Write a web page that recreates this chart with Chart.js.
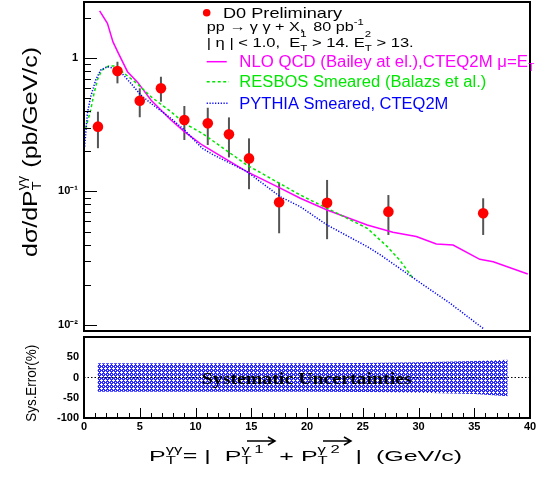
<!DOCTYPE html>
<html><head><meta charset="utf-8">
<script src="https://cdn.jsdelivr.net/npm/chart.js@4.4.1/dist/chart.umd.min.js"></script>
<style>
html,body{margin:0;padding:0;background:#fff;}
#wrap{position:relative;width:542px;height:477px;overflow:hidden;}
#top{position:absolute;left:0;top:0;}
#bot{position:absolute;left:0;top:335px;}
</style></head><body>
<div id="wrap">
<canvas id="top" width="542" height="335"></canvas>
<canvas id="bot" width="542" height="142"></canvas>
</div>
<script>
// ---------- data ----------
const dataPt  = [1.25, 3.0, 5.0, 6.9, 9.0, 11.1, 13.0, 14.8, 17.5, 21.8, 27.3, 35.8];
const dataVal = [0.306, 0.799, 0.479, 0.593, 0.343, 0.324, 0.268, 0.177, 0.083, 0.0824, 0.0706, 0.0687];
const dataHi  = [0.396, 0.938, 0.593, 0.724, 0.437, 0.424, 0.359, 0.250, 0.116, 0.122, 0.094, 0.0889];
const dataLo  = [0.211, 0.646, 0.360, 0.471, 0.243, 0.223, 0.180, 0.104, 0.0486, 0.0439, 0.0472, 0.0472];

const nloPt  = [1.4, 2.1, 2.6, 3.1, 3.9, 4.8, 6.0, 7.8, 9.0, 10.6, 11.6, 14.6, 17.6, 19.4, 21.8, 25.4, 27.7, 29.8, 31.6, 33.1, 35.5, 36.7, 39.8];
const nloVal = [2.26, 1.82, 1.32, 1.08, 0.79, 0.66, 0.485, 0.343, 0.281, 0.223, 0.199, 0.141, 0.106, 0.089, 0.0727, 0.056, 0.0495, 0.046, 0.0404, 0.0397, 0.031, 0.0297, 0.0241];

const resPt  = [0.15, 0.6, 0.9, 1.2, 1.6, 2.2, 2.8, 3.6, 4.8, 6.0, 7.8, 9.0, 10.6, 14.6, 19.4, 21.8, 25.4, 27.2, 28.3, 29.5];
const resVal = [0.297, 0.408, 0.544, 0.684, 0.813, 0.871, 0.871, 0.768, 0.64, 0.513, 0.396, 0.324, 0.273, 0.158, 0.094, 0.0748, 0.053, 0.0386, 0.0307, 0.0224];

const pyPt  = [0.06, 0.3, 0.6, 1.05, 1.5, 2.1, 2.7, 3.4, 4.2, 5.1, 6.0, 7.8, 9.0, 10.6, 11.6, 14.6, 17.6, 19.4, 21.8, 25.4, 26.6, 29.8, 32.8, 35.8];
const pyVal = [0.217, 0.385, 0.513, 0.684, 0.813, 0.861, 0.837, 0.768, 0.646, 0.528, 0.458, 0.353, 0.289, 0.211, 0.188, 0.141, 0.0914, 0.0769, 0.0561, 0.0386, 0.0334, 0.0217, 0.0146, 0.0094];

const sysPt = [1.2, 10, 20, 25, 30, 35, 38];
const sysUp = [35, 35, 35, 36, 37.5, 40.5, 44];
const sysDn = [-35, -35, -35, -36, -37.5, -41, -46];

const yTickVals = [0.01,0.02,0.03,0.04,0.05,0.06,0.07,0.08,0.09,0.1,0.2,0.3,0.4,0.5,0.6,0.7,0.8,0.9,1,2];
const yTickLabels = {0.01:'10\u207B\u00B2', 0.1:'10\u207B\u00B9', 1:'1'};
const sysTickLabels = {'50':'50','0':'0','-50':'-50','-100':'-100'};

// ---------- helpers ----------
const SANS = '"Liberation Sans", Arial, Helvetica, sans-serif';
function fnt(p){ return (p.w||'') + ' ' + p.s + 'px ' + (p.f||SANS); }
function drawRich(ctx, parts, x, y, target, align){
  let w = 0;
  for (const p of parts){ ctx.font = fnt(p); if(!p.stack) w += ctx.measureText(p.t).width; }
  const sx = target ? target / w : 1;
  ctx.save();
  ctx.translate(x, y);
  ctx.scale(sx, 1);
  ctx.textAlign = 'left'; ctx.textBaseline = 'alphabetic';
  let cx = align === 'center' ? -w/2 : 0;
  for (const p of parts){
    ctx.font = fnt(p);
    ctx.fillStyle = p.c || '#000';
    ctx.fillText(p.t, cx, p.dy || 0);
    if(!p.stack) cx += ctx.measureText(p.t).width;
  }
  ctx.restore();
}
function makePattern(){
  const c = document.createElement('canvas'); c.width = 4; c.height = 4;
  const g = c.getContext('2d');
  g.fillStyle = '#2a2aff'; g.fillRect(0,0,4,4);
  g.fillStyle = '#ffffff';
  g.fillRect(1,0,1,1); g.fillRect(0,1,1,1); g.fillRect(1,1,1,1); g.fillRect(2,1,1,1); g.fillRect(1,2,1,1);
  g.fillRect(3,3,1,1);
  return g.createPattern(c, 'repeat');
}
const pts = (xs, ys) => xs.map((x,i)=>({x:x, y:ys[i]}));
function noPad(s){ s.paddingTop = 0; s.paddingBottom = 0; s.paddingLeft = 0; s.paddingRight = 0; }

// ---------- plugins ----------
const topDeco = {
  id:'topDeco',
  beforeDatasetsDraw(chart){
    const ctx = chart.ctx, xs = chart.scales.x, ys = chart.scales.y;
    ctx.save();
    ctx.strokeStyle = '#555'; ctx.lineWidth = 2;
    for (let i=0;i<dataPt.length;i++){
      const px = xs.getPixelForValue(dataPt[i]);
      ctx.beginPath();
      ctx.moveTo(px, ys.getPixelForValue(dataHi[i]));
      ctx.lineTo(px, ys.getPixelForValue(dataLo[i]));
      ctx.stroke();
    }
    ctx.restore();
  },
  afterDraw(chart){
    const ctx = chart.ctx, a = chart.chartArea, ys = chart.scales.y;
    ctx.save();
    ctx.strokeStyle = '#000'; ctx.lineWidth = 1;
    for (const v of yTickVals){
      const py = Math.round(ys.getPixelForValue(v)) + 0.5;
      const len = (v===0.01||v===0.1||v===1) ? 13 : 7;
      ctx.beginPath(); ctx.moveTo(a.left, py); ctx.lineTo(a.left+len, py); ctx.stroke();
    }
    ctx.lineWidth = 2; ctx.strokeStyle = '#000';
    ctx.strokeRect(a.left, a.top, a.right-a.left, a.bottom-a.top);

    // legend block
    ctx.fillStyle = '#ff0000';
    ctx.beginPath(); ctx.arc(206.7, 12.7, 3.8, 0, Math.PI*2); ctx.fill();
    drawRich(ctx, [{t:'D0 Preliminary', s:15}], 223, 17.5, 119);
    drawRich(ctx, [{t:'pp \u2192 \u03B3 \u03B3 + X,  80 pb', s:13}, {t:'-1', s:9, dy:-6}], 206.7, 30.5, 157);
    drawRich(ctx, [
      {t:'| \u03B7 | < 1.0,  E', s:13}, {t:'1', s:9, dy:-10, stack:true}, {t:'T', s:9, dy:4},
      {t:' > 14. E', s:13}, {t:'2', s:9, dy:-10, stack:true}, {t:'T', s:9, dy:4},
      {t:' > 13.', s:13}], 206.7, 46.7, 207);

    ctx.lineWidth = 1.5;
    ctx.strokeStyle = '#ff00ff'; ctx.setLineDash([]);
    ctx.beginPath(); ctx.moveTo(206.7, 61.7); ctx.lineTo(226.7, 61.7); ctx.stroke();
    ctx.strokeStyle = '#00e600'; ctx.setLineDash([3,2.5]);
    ctx.beginPath(); ctx.moveTo(206.7, 81.7); ctx.lineTo(229, 81.7); ctx.stroke();
    ctx.strokeStyle = '#0000ff'; ctx.setLineDash([1.2,1.6]);
    ctx.beginPath(); ctx.moveTo(206.7, 103.3); ctx.lineTo(229, 103.3); ctx.stroke();
    ctx.setLineDash([]);

    drawRich(ctx, [{t:'NLO QCD (Bailey at el.),CTEQ2M \u03BC=E', s:16, c:'#ff00ff'}, {t:'T', s:10, dy:4, c:'#ff00ff'}], 239.3, 67, 295);
    drawRich(ctx, [{t:'RESBOS Smeared (Balazs et al.)', s:16, c:'#00e600'}], 239.3, 87.3, 247);
    drawRich(ctx, [{t:'PYTHIA Smeared, CTEQ2M', s:16, c:'#0000ff'}], 239.3, 109, 209);

    ctx.save();
    ctx.translate(37, 152);
    ctx.rotate(-Math.PI/2);
    drawRich(ctx, [
      {t:'d\u03C3/dP', s:21}, {t:'\u03B3\u03B3', s:12, dy:-11, stack:true}, {t:'T', s:12, dy:4},
      {t:'  (pb/GeV/c)', s:21}], 0, 0, 210, 'center');
    ctx.restore();
    ctx.restore();
  }
};

const botDeco = {
  id:'botDeco',
  afterDraw(chart){
    const ctx = chart.ctx, a = chart.chartArea, xs = chart.scales.x;
    ctx.save();
    ctx.strokeStyle = '#000'; ctx.lineWidth = 1;
    for (let v=0; v<=40; v++){
      const px = Math.round(xs.getPixelForValue(v)) + 0.5;
      const len = v%5===0 ? 10 : 5;
      ctx.beginPath(); ctx.moveTo(px, a.bottom); ctx.lineTo(px, a.bottom-len); ctx.stroke();
    }
    ctx.lineWidth = 2;
    ctx.strokeRect(a.left, a.top, a.right-a.left, a.bottom-a.top);

    drawRich(ctx, [{t:'Systematic Uncertainties', s:17, w:'bold', f:'"Liberation Serif", "Times New Roman", serif'}], 201.7, 48.5, 210);

    ctx.save();
    ctx.translate(35.5, 48.3);
    ctx.rotate(-Math.PI/2);
    drawRich(ctx, [{t:'Sys.Error(%)', s:14}], 0, 0, 77, 'center');
    ctx.restore();

    drawRich(ctx, [
      {t:'P', s:15}, {t:'\u03B3\u03B3', s:10, dy:-8, stack:true}, {t:'T', s:10, dy:3},
      {t:' = |  P', s:15}, {t:'\u03B3 1', s:10, dy:-8, stack:true}, {t:'T', s:10, dy:3},
      {t:'    + P', s:15}, {t:'\u03B3 2', s:10, dy:-8, stack:true}, {t:'T', s:10, dy:3},
      {t:'    |  (GeV/c)', s:15}], 149, 125.5, 313);
    ctx.lineWidth = 1.5; ctx.strokeStyle = '#000';
    for (const [x1,x2] of [[247,275],[323,351]]){
      const y = 106;
      ctx.beginPath(); ctx.moveTo(x1,y); ctx.lineTo(x2,y);
      ctx.moveTo(x2-7,y-4); ctx.lineTo(x2,y); ctx.lineTo(x2-7,y+4); ctx.stroke();
    }
    ctx.restore();
  }
};

// ---------- top chart ----------
new Chart(document.getElementById('top'), {
  type:'scatter',
  data:{ datasets:[
    {label:'NLO QCD', data:pts(nloPt,nloVal), showLine:true, borderColor:'#ff00ff', borderWidth:1.5, pointRadius:0, fill:false, order:3},
    {label:'RESBOS', data:pts(resPt,resVal), showLine:true, borderColor:'#00e600', borderWidth:1.5, borderDash:[3,2.5], pointRadius:0, fill:false, order:2},
    {label:'PYTHIA', data:pts(pyPt,pyVal), showLine:true, borderColor:'#0000ff', borderWidth:1.5, borderDash:[1.2,1.6], pointRadius:0, fill:false, order:1},
    {label:'D0', data:pts(dataPt,dataVal), showLine:false, pointRadius:5.3, pointBackgroundColor:'#ff0000', pointBorderWidth:0, order:0}
  ]},
  options:{
    responsive:false, animation:false, events:[],
    layout:{autoPadding:false, padding:{top:2, right:12, bottom:4, left:0}},
    plugins:{legend:{display:false}, tooltip:{enabled:false}},
    scales:{
      x:{type:'linear', min:0, max:40, display:false},
      y:{type:'logarithmic', min:0.009, max:2.63,
         afterFit(s){ s.width = 84; noPad(s); },
         afterBuildTicks(s){ s.ticks = yTickVals.map(v=>({value:v})); },
         ticks:{autoSkip:false, padding:6, color:'#000', font:{family:SANS, size:11, weight:'bold'},
                callback:(v)=> yTickLabels[v] || ''},
         grid:{display:false, drawTicks:false}, border:{display:false}}
    }
  },
  plugins:[topDeco]
});

// ---------- bottom chart ----------
new Chart(document.getElementById('bot'), {
  type:'scatter',
  data:{ datasets:[
    {label:'zero', data:[{x:0,y:0},{x:40,y:0}], showLine:true, borderColor:'#000', borderWidth:1, borderDash:[1.5,2], pointRadius:0, fill:false},
    {label:'sysUp', data:pts(sysPt,sysUp), showLine:true, borderWidth:0, borderColor:'rgba(0,0,0,0)', pointRadius:0, fill:false},
    {label:'sysDn', data:pts(sysPt,sysDn), showLine:true, borderWidth:0, borderColor:'rgba(0,0,0,0)', pointRadius:0, fill:'-1', backgroundColor:makePattern()}
  ]},
  options:{
    responsive:false, animation:false, events:[],
    layout:{autoPadding:false, padding:{top:2, right:12, bottom:35, left:0}},
    plugins:{legend:{display:false}, tooltip:{enabled:false}},
    scales:{
      x:{type:'linear', min:0, max:40,
         afterFit(s){ s.height = 24; noPad(s); },
         ticks:{stepSize:1, autoSkip:false, maxRotation:0, padding:2, color:'#000', font:{family:SANS, size:11, weight:'bold'},
                callback:(v)=> (v%5===0 ? String(v) : '')},
         grid:{display:false, drawTicks:false}, border:{display:false}},
      y:{type:'linear', min:-100, max:100,
         afterFit(s){ s.width = 84; noPad(s); },
         ticks:{stepSize:50, autoSkip:false, padding:5, color:'#000', font:{family:SANS, size:11, weight:'bold'},
                callback:(v)=> sysTickLabels[String(v)] || ''},
         grid:{display:false, drawTicks:false}, border:{display:false}}
    }
  },
  plugins:[botDeco]
});
</script>
</body></html>
